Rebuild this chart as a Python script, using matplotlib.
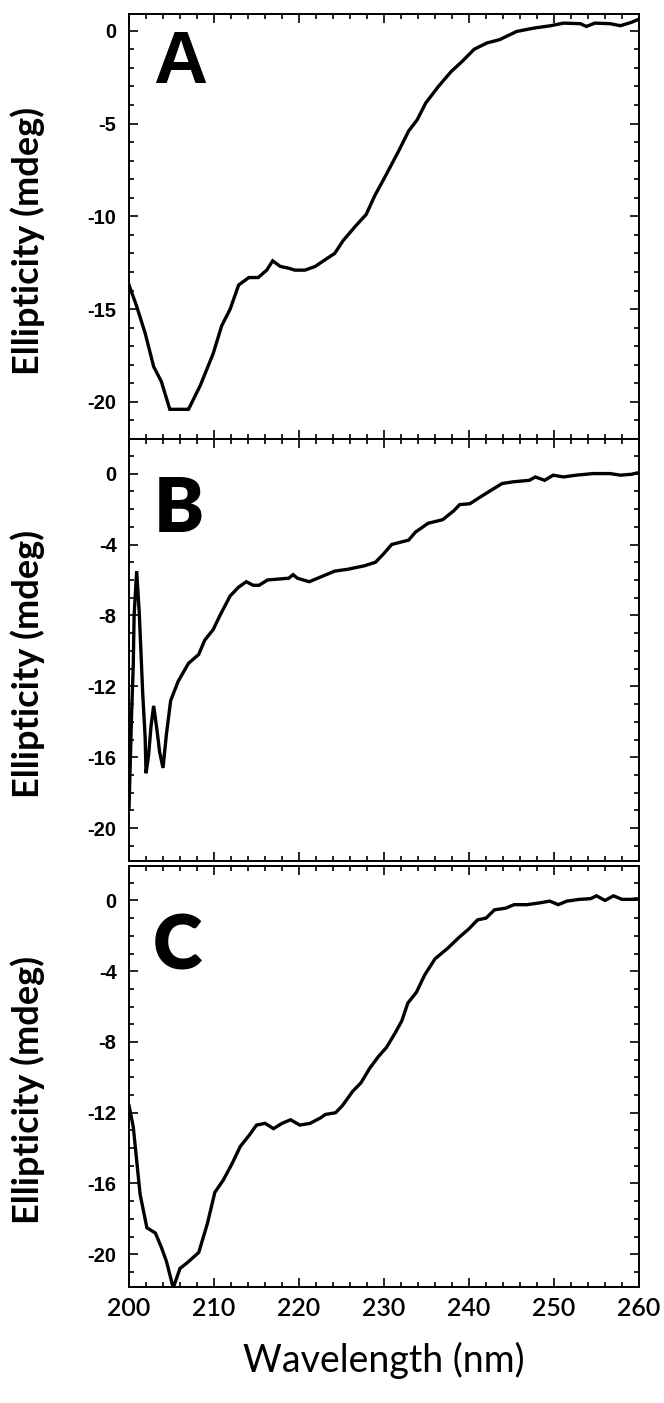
import matplotlib

matplotlib.use("Agg")
import matplotlib.pyplot as plt
from matplotlib.ticker import MultipleLocator

plt.rcParams["axes.unicode_minus"] = False

# Panel A: CD spectrum (wavelength in nm, ellipticity in mdeg)
wl_a = [200.0, 200.9, 201.9, 202.9, 203.8, 204.8, 205.1, 206.8, 207.0, 208.4,
        209.9, 210.9, 211.9, 212.9, 214.1, 215.2, 216.2, 216.9, 217.8, 218.8,
        219.5, 220.7, 221.9, 223.2, 224.2, 225.2, 226.7, 227.9, 228.9, 230.2,
        231.7, 232.9, 233.9, 234.9, 236.4, 237.9, 239.2, 240.6, 242.1, 243.6,
        245.6, 247.6, 249.6, 251.1, 253.1, 253.8, 254.8, 256.6, 257.8, 259.1,
        260.0]
cd_a = [-13.7, -14.85, -16.3, -18.1, -18.9, -20.4, -20.4, -20.4, -20.4, -19.1,
        -17.4, -15.9, -15.0, -13.7, -13.3, -13.3, -12.9, -12.4, -12.7, -12.8,
        -12.9, -12.9, -12.7, -12.3, -12.0, -11.3, -10.5, -9.9, -8.9, -7.8,
        -6.5, -5.4, -4.8, -3.9, -3.0, -2.2, -1.65, -1.0, -0.66, -0.48,
        -0.04, 0.14, 0.27, 0.41, 0.38, 0.23, 0.41, 0.38, 0.27, 0.45,
        0.63]

# Panel B
wl_b = [200.0, 200.3, 200.5, 200.6, 200.9, 201.2, 201.4, 201.6, 201.9, 202.0,
        202.3, 202.6, 202.9, 203.3, 203.6, 204.0, 204.4, 204.9, 205.8, 207.0,
        208.2, 208.9, 209.9, 210.7, 211.9, 212.9, 213.8, 214.6, 215.3, 216.3,
        218.8, 219.3, 219.8, 221.2, 222.7, 224.2, 225.7, 227.7, 229.0, 230.0,
        230.9, 232.9, 233.7, 235.2, 236.9, 238.2, 238.9, 240.1, 241.4, 242.6,
        243.9, 245.1, 247.1, 247.8, 248.9, 249.9, 251.1, 252.6, 254.6, 256.6,
        257.8, 259.1, 260.0]
cd_b = [-18.9, -13.6, -10.8, -8.0, -5.5, -7.8, -10.0, -12.3, -14.9, -16.9,
        -15.9, -14.2, -13.1, -14.5, -15.7, -16.6, -14.7, -12.8, -11.7, -10.7,
        -10.2, -9.4, -8.8, -8.0, -6.9, -6.4, -6.1, -6.3, -6.3, -6.0,
        -5.9, -5.7, -5.9, -6.1, -5.8, -5.5, -5.4, -5.2, -5.0, -4.5,
        -4.0, -3.75, -3.3, -2.8, -2.6, -2.1, -1.75, -1.7, -1.3, -0.94,
        -0.56, -0.47, -0.38, -0.19, -0.38, -0.09, -0.19, -0.09, 0.0, 0.0,
        -0.09, -0.04, 0.06]

# Panel C
wl_c = [200.0, 200.5, 200.9, 201.3, 202.1, 203.1, 203.8, 204.4, 205.2, 206.0,
        206.8, 208.2, 209.2, 210.1, 211.1, 212.1, 213.1, 214.1, 215.0, 216.0,
        217.0, 218.0, 219.0, 220.1, 221.3, 222.5, 223.1, 224.3, 225.1, 226.3,
        227.3, 228.3, 229.3, 230.3, 231.3, 232.1, 232.8, 233.8, 234.8, 236.0,
        237.5, 238.8, 240.0, 241.0, 242.0, 243.0, 244.3, 245.3, 246.8, 248.3,
        249.5, 250.5, 251.5, 253.0, 254.3, 255.0, 256.0, 257.0, 258.0, 259.0,
        260.0]
cd_c = [-11.6, -12.8, -14.7, -16.6, -18.5, -18.8, -19.6, -20.4, -21.9, -20.8,
        -20.5, -19.9, -18.3, -16.5, -15.8, -14.9, -13.9, -13.3, -12.7, -12.6,
        -12.9, -12.6, -12.4, -12.7, -12.6, -12.3, -12.1, -12.0, -11.6, -10.8,
        -10.3, -9.5, -8.85, -8.3, -7.5, -6.8, -5.8, -5.2, -4.2, -3.3,
        -2.7, -2.1, -1.6, -1.1, -1.0, -0.53, -0.44, -0.24, -0.24, -0.14,
        -0.04, -0.24, -0.04, 0.06, 0.10, 0.26, 0.0, 0.26, 0.06, 0.06,
        0.1]

panels = [
    ("A", wl_a, cd_a, (-22.0, 0.9), 5, 1),
    ("B", wl_b, cd_b, (-21.85, 1.95), 4, 1),
    ("C", wl_c, cd_c, (-21.85, 1.95), 4, 1),
]

# axes boxes in figure fraction (left, bottom, width, height)
boxes = [
    (0.1943, 0.6871, 0.7681, 0.3029),
    (0.1943, 0.3863, 0.7681, 0.3008),
    (0.1943, 0.0827, 0.7681, 0.3001),
]
letter_pos = [(0.10, 0.838), (0.098, 0.780), (0.094, 0.753)]

NARROW = ["Liberation Sans Narrow", "Liberation Sans", "DejaVu Sans"]
HUMANIST = ["Lato", "DejaVu Sans"]

fig = plt.figure(figsize=(6.64, 14.03), dpi=100)

for i, (letter, wl, cd, ylim, major, minor) in enumerate(panels):
    ax = fig.add_axes(boxes[i])
    ax.plot(wl, cd, color="black", linewidth=2.4, solid_joinstyle="miter")
    ax.set_xlim(200, 260)
    ax.set_ylim(*ylim)
    ax.xaxis.set_major_locator(MultipleLocator(10))
    ax.xaxis.set_minor_locator(MultipleLocator(2))
    ax.yaxis.set_major_locator(MultipleLocator(major))
    ax.yaxis.set_minor_locator(MultipleLocator(minor))
    ax.tick_params(which="both", direction="in", top=True, right=True,
                   width=1.2, color="black")
    ax.tick_params(which="major", length=6.5)
    ax.tick_params(which="minor", length=3.5)
    ax.tick_params(axis="y", pad=9)
    for s in ax.spines.values():
        s.set_linewidth(1.4)
    for lab in ax.get_yticklabels():
        lab.set_family(NARROW)
        lab.set_fontsize(14.5)
        lab.set_fontweight("bold")
    if i < 2:
        ax.tick_params(axis="x", labelbottom=False)
    else:
        ax.tick_params(axis="x", pad=7)
        for lab in ax.get_xticklabels():
            lab.set_family(HUMANIST)
            lab.set_fontsize(18)
            lab.set_fontweight("semibold")
        ax.set_xlabel("Wavelength (nm)", family=HUMANIST,
                      fontsize=27, labelpad=16)
    ax.set_ylabel("Ellipticity (mdeg)", family=HUMANIST,
                  fontsize=26, fontweight="bold")
    ax.yaxis.set_label_coords(-0.165, 0.467)
    lx, ly = letter_pos[i]
    ax.text(lx, ly, letter, transform=ax.transAxes, ha="center",
            va="baseline", fontsize=54, fontweight="heavy",
            family=["Liberation Sans", "DejaVu Sans"] if letter == "A"
            else HUMANIST)

fig.savefig("out.png", dpi=100)
